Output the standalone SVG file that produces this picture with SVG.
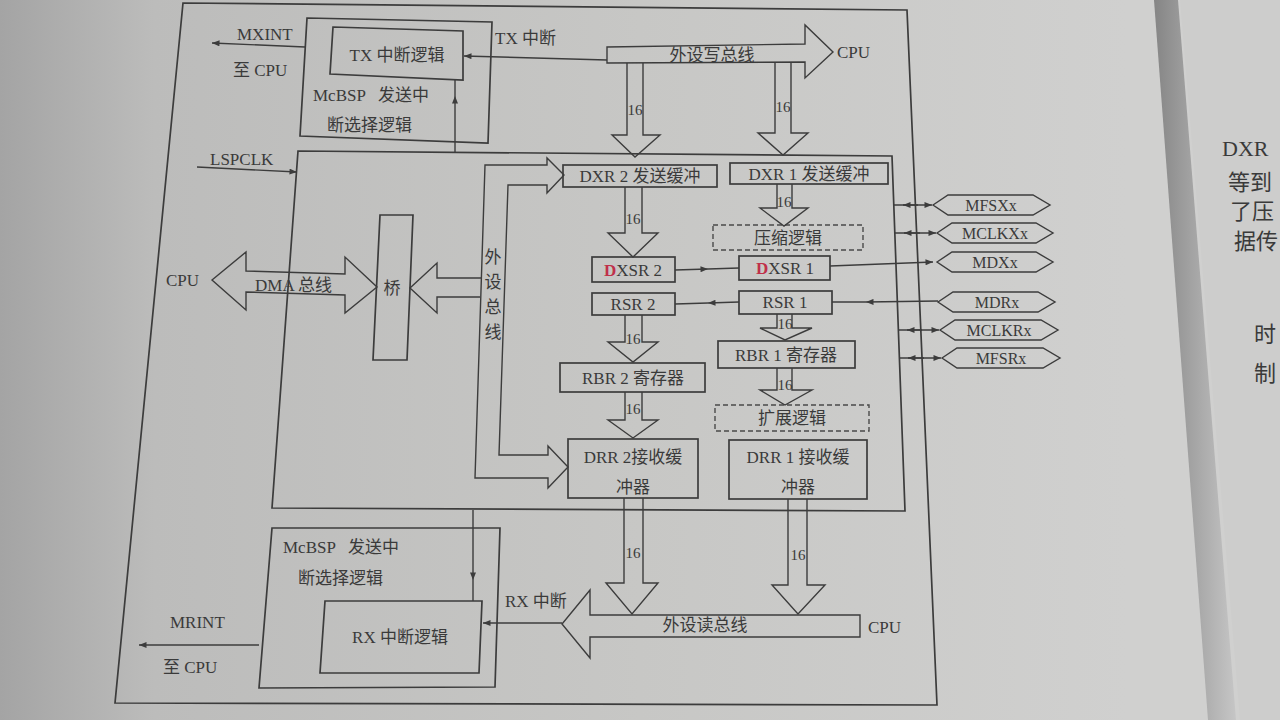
<svg xmlns="http://www.w3.org/2000/svg" width="1280" height="720" viewBox="0 0 1280 720">
<defs>
<linearGradient id="paper" x1="0" y1="0" x2="1" y2="0">
<stop offset="0" stop-color="#a4a4a4"/>
<stop offset="0.12" stop-color="#bcbcbb"/>
<stop offset="0.5" stop-color="#c7c7c5"/>
<stop offset="0.88" stop-color="#d0d0cf"/>
</linearGradient>
<linearGradient id="gutter" x1="0" y1="0" x2="1" y2="0">
<stop offset="0" stop-color="#858585"/>
<stop offset="1" stop-color="#c6c6c6"/>
</linearGradient>
<marker id="ah" viewBox="0 0 10 8" refX="10" refY="4" markerWidth="9" markerHeight="6" orient="auto" markerUnits="userSpaceOnUse">
<path d="M0,0 L10,4 L0,8 z" fill="#3c3c3c"/>
</marker>
<style>
.ln{stroke:#3c3c3c;stroke-width:1.4;fill:none}
.box{stroke:#3c3c3c;stroke-width:1.7;fill:none}
.dash{stroke:#4a4a4a;stroke-width:1.4;fill:none;stroke-dasharray:5 3}
.fat{stroke:#3c3c3c;stroke-width:1.4;fill:none;stroke-linejoin:miter}
.t{font-family:"Liberation Serif","Noto Sans CJK SC",serif;fill:#3a3a3a;font-size:17px}
.c{text-anchor:middle}
.n{font-size:15px}
.h{font-size:16px}
.pg{font-family:"Liberation Serif","Noto Sans CJK SC",serif;fill:#3a3a3a;font-size:22px}
</style>
</defs>

<!-- page background -->
<rect x="0" y="0" width="1280" height="720" fill="url(#paper)"/>
<polygon points="1180,0 1280,0 1280,720 1240,720" fill="#cdcdcc"/>
<polygon points="1154,0 1178,0 1236,720 1208,720" fill="url(#gutter)"/>
<g id="facing-page">
<text class="pg" x="1222" y="156">DXR</text>
<text class="pg" x="1228" y="190">等到</text>
<text class="pg" x="1230" y="219">了压</text>
<text class="pg" x="1234" y="249">据传</text>
<text class="pg" x="1254" y="342">时</text>
<text class="pg" x="1254" y="381">制</text>
</g>

<!-- frames -->
<g id="outer-frame">
<polygon class="box" points="183,3 907,10 937,705 115,703"/>
</g>
<g id="mcbsp-core">
<polygon class="box" points="298,151 892,156 905,511 272,508"/>
</g>

<g id="tx-select">
<polygon class="box" points="307,18 492,22 488,143 300,136"/>
<text class="t" x="313" y="101">McBSP</text>
<text class="t" x="378" y="101">发送中</text>
<text class="t" x="327" y="131">断选择逻辑</text>
</g>
<g id="tx-logic">
<polygon class="box" points="333,27 463,31 463,80 330,74"/>
<text class="t c" x="397" y="61">TX 中断逻辑</text>
</g>

<g id="rx-select">
<polygon class="box" points="272,528 500,528 495,687 259,688"/>
<text class="t" x="283" y="553">McBSP</text>
<text class="t" x="348" y="553">发送中</text>
<text class="t" x="298" y="584">断选择逻辑</text>
</g>
<g id="rx-logic">
<polygon class="box" points="325,601 482,601 479,673 320,673"/>
<text class="t c" x="400" y="643">RX 中断逻辑</text>
</g>

<g id="bridge">
<polygon class="box" points="380,215 413,215 407,360 373,360"/>
<text class="t c" x="392" y="294">桥</text>
</g>

<g id="dxr2"><rect class="box" x="563" y="165" width="154" height="22"/><text class="t c" x="640" y="182">DXR 2 发送缓冲</text></g>
<g id="dxr1"><rect class="box" x="730" y="163" width="158" height="21"/><text class="t c" x="809" y="180">DXR 1 发送缓冲</text></g>
<g id="compress"><rect class="dash" x="713" y="225" width="150" height="25"/><text class="t c" x="788" y="244">压缩逻辑</text></g>
<g id="xsr2"><rect class="box" x="592" y="257" width="83" height="25"/><text class="t c" x="633" y="276"><tspan fill="#c0304a" font-weight="bold">D</tspan>XSR 2</text></g>
<g id="xsr1"><rect class="box" x="739" y="256" width="91" height="24"/><text class="t c" x="785" y="274"><tspan fill="#c0304a" font-weight="bold">D</tspan>XSR 1</text></g>
<g id="rsr2"><rect class="box" x="592" y="293" width="83" height="22"/><text class="t c" x="633" y="310">RSR 2</text></g>
<g id="rsr1"><rect class="box" x="739" y="291" width="93" height="23"/><text class="t c" x="785" y="308">RSR 1</text></g>
<g id="rbr2"><rect class="box" x="560" y="363" width="145" height="29"/><text class="t c" x="633" y="384">RBR 2 寄存器</text></g>
<g id="rbr1"><rect class="box" x="718" y="341" width="137" height="27"/><text class="t c" x="786" y="361">RBR 1 寄存器</text></g>
<g id="expand"><rect class="dash" x="715" y="405" width="154" height="26"/><text class="t c" x="792" y="424">扩展逻辑</text></g>
<g id="drr2"><rect class="box" x="568" y="439" width="130" height="59"/><text class="t c" x="633" y="463">DRR 2接收缓</text><text class="t c" x="633" y="493">冲器</text></g>
<g id="drr1"><rect class="box" x="729" y="440" width="138" height="59"/><text class="t c" x="798" y="463">DRR 1 接收缓</text><text class="t c" x="798" y="493">冲器</text></g>

<g id="pins">
<polygon class="ln" points="933,205 948,195 1033,195 1050,205 1033,215 948,215"/>
<text class="t h c" x="991" y="211">MFSXx</text>
<polygon class="ln" points="937,233 952,223 1036,223 1053,233 1036,243 952,243"/>
<text class="t h c" x="995" y="239">MCLKXx</text>
<polygon class="ln" points="937,262 952,252 1036,252 1053,262 1036,272 952,272"/>
<text class="t h c" x="995" y="268">MDXx</text>
<polygon class="ln" points="938,302 953,292 1038,292 1055,302 1038,312 953,312"/>
<text class="t h c" x="997" y="308">MDRx</text>
<polygon class="ln" points="940,330 955,320 1041,320 1058,330 1041,340 955,340"/>
<text class="t h c" x="999" y="336">MCLKRx</text>
<polygon class="ln" points="942,358 957,348 1043,348 1060,358 1043,368 957,368"/>
<text class="t h c" x="1001" y="364">MFSRx</text>
</g>

<g id="labels">
<text class="t" x="237" y="40">MXINT</text>
<text class="t" x="233" y="76">至 CPU</text>
<text class="t" x="495" y="44">TX 中断</text>
<text class="t" x="837" y="58">CPU</text>
<text class="t" x="210" y="165">LSPCLK</text>
<text class="t" x="166" y="286">CPU</text>
<text class="t" x="170" y="628">MRINT</text>
<text class="t" x="163" y="673">至 CPU</text>
<text class="t" x="505" y="607">RX 中断</text>
<text class="t" x="868" y="633">CPU</text>
</g>

<g id="connectors">
<!-- wide buses -->
<polygon class="fat" points="607,47 805,44 805,25 833,52 805,78 805,62 607,63"/>
<text class="t c" x="712" y="61">外设写总线</text>
<polyline class="fat" points="627,63 627,135 612,135 635,157 660,135 643,135 643,63"/>
<text class="t n c" x="635" y="115">16</text>
<polyline class="fat" points="775,62 775,133 758,133 783,155 808,133 791,133 791,62"/>
<text class="t n c" x="783" y="112">16</text>

<polygon class="fat" points="485,165 547,165 547,158 564,175 547,193 547,185 508,185 499,455 548,455 548,446 568,467 548,488 548,478 475,478"/>
<text class="t c" x="493" y="263">外</text>
<text class="t c" x="493" y="288">设</text>
<text class="t c" x="493" y="313">总</text>
<text class="t c" x="493" y="338">线</text>
<polyline class="fat" points="481,278 437,278 437,263 410,288 437,313 437,297 480,297"/>

<polygon class="fat" points="212,280 246,252 246,271 345,274 345,257 377,287 345,313 345,295 246,292 246,310"/>
<text class="t" x="255" y="291">DMA 总线</text>

<polygon class="fat" points="860,615 590,615 590,590 562,624 590,658 590,637 860,637"/>
<text class="t c" x="705" y="631">外设读总线</text>

<!-- 16-bit transfers -->
<polyline class="fat" points="625,187 625,233 608,233 633,257 658,233 642,233 642,187"/>
<text class="t n c" x="633" y="224">16</text>
<polyline class="fat" points="777,184 777,208 760,208 784,226 808,208 792,208 792,184"/>
<text class="t n c" x="784" y="207">16</text>
<polyline class="fat" points="625,315 625,342 608,342 633,362 658,342 642,342 642,315"/>
<text class="t n c" x="633" y="344">16</text>
<polyline class="fat" points="777,314 777,328 760,328 785,340 812,328 792,328 792,314"/>
<text class="t n c" x="785" y="329">16</text>
<polyline class="fat" points="777,368 777,390 760,390 785,405 812,390 792,390 792,368"/>
<text class="t n c" x="785" y="390">16</text>
<polyline class="fat" points="625,392 625,420 608,420 633,438 658,420 642,420 642,392"/>
<text class="t n c" x="633" y="414">16</text>
<polyline class="fat" points="624,498 624,583 606,583 632,614 658,583 643,583 643,498"/>
<text class="t n c" x="633" y="558">16</text>
<polyline class="fat" points="788,499 788,585 772,585 798,614 825,585 807,585 807,499"/>
<text class="t n c" x="798" y="560">16</text>

<!-- signal lines -->
<path class="ln" d="M305,47 L212,43" marker-end="url(#ah)"/>
<path class="ln" d="M607,60 L464,56" marker-end="url(#ah)"/>
<path class="ln" d="M455,152 L455,96" marker-end="url(#ah)"/>
<path class="ln" d="M455,96 L455,80"/>
<path class="ln" d="M197,167 L297,172" marker-end="url(#ah)"/>
<path class="ln" d="M675,270 L708,269" marker-end="url(#ah)"/>
<path class="ln" d="M708,269 L739,268"/>
<path class="ln" d="M830,266 L933,262" marker-end="url(#ah)"/>
<path class="ln" d="M938,301 L866,302" marker-end="url(#ah)"/>
<path class="ln" d="M866,302 L832,302"/>
<path class="ln" d="M739,302 L708,303" marker-end="url(#ah)"/>
<path class="ln" d="M708,303 L675,304"/>
<path class="ln" d="M894,205 L932,205" marker-end="url(#ah)"/>
<path class="ln" d="M918,205 L903,205" marker-end="url(#ah)"/>
<path class="ln" d="M895,233 L936,233" marker-end="url(#ah)"/>
<path class="ln" d="M920,233 L904,233" marker-end="url(#ah)"/>
<path class="ln" d="M898,330 L939,330" marker-end="url(#ah)"/>
<path class="ln" d="M922,330 L907,330" marker-end="url(#ah)"/>
<path class="ln" d="M899,358 L941,358" marker-end="url(#ah)"/>
<path class="ln" d="M924,358 L908,358" marker-end="url(#ah)"/>
<path class="ln" d="M562,623 L483,623" marker-end="url(#ah)"/>
<path class="ln" d="M473,510 L473,580" marker-end="url(#ah)"/>
<path class="ln" d="M473,580 L473,601"/>
<path class="ln" d="M259,645 L139,645" marker-end="url(#ah)"/>
</g>
</svg>
